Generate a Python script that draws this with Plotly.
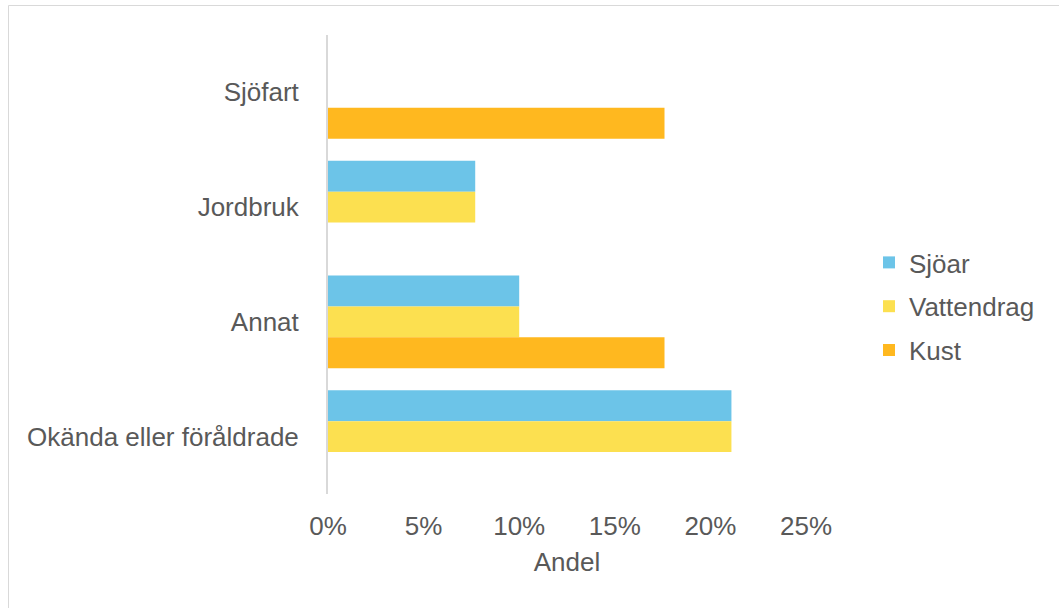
import plotly.graph_objects as go

categories = ["Sjöfart", "Jordbruk", "Annat", "Okända eller föråldrade"]
sjoar = [None, 0.077, 0.100, 0.211]
vattendrag = [None, 0.077, 0.100, 0.211]
kust = [0.176, None, 0.176, None]
series_names = ["Sjöar", "Vattendrag", "Kust"]
colors = ["#6cc4e8", "#fce050", "#ffb81f"]
x_ticks = [0, 0.05, 0.10, 0.15, 0.20, 0.25]
title_text = "Orsak till ändring av klassning i sjöar, vattendrag och kust"

W, H = 1059, 608
L, R, T, B = 328, 253, 35, 114
pw, ph = W - L - R, H - T - B

font_fam = "Arial, 'Liberation Sans', sans-serif"
grey = "#595959"
fs = 26

fig = go.Figure()
for name, vals, col in zip(series_names, [sjoar, vattendrag, kust], colors):
    fig.add_trace(go.Bar(
        y=categories, x=vals, name=name, orientation="h",
        marker=dict(color=col, line=dict(width=0)),
        legendgroup=name,
    ))

fig.update_layout(
    width=W, height=H,
    margin=dict(l=L, r=R, t=T, b=B, pad=0),
    paper_bgcolor="white", plot_bgcolor="white",
    barmode="group", bargap=0.19, bargroupgap=0,
    font=dict(family=font_fam, color=grey, size=fs),
    showlegend=True,
    legend=dict(
        x=(869 - L) / pw, xanchor="left",
        y=1 - (239 - T) / ph, yanchor="top",
        font=dict(size=fs, color=grey),
        tracegroupgap=7,
        itemwidth=30,
        bgcolor="rgba(0,0,0,0)",
    ),
    xaxis=dict(
        range=[0, 0.25], tickvals=x_ticks, tickformat=".0%",
        showgrid=False, zeroline=False, showline=False, ticks="",
        ticklabelstandoff=14,
        title=dict(text="Andel", standoff=12, font=dict(size=fs, color=grey)),
        tickfont=dict(size=fs, color=grey),
    ),
    yaxis=dict(
        categoryorder="array", categoryarray=categories,
        autorange="reversed",
        showgrid=False, zeroline=False,
        showline=True, linecolor="#d9d9d9", linewidth=2,
        ticks="", ticklabelstandoff=22,
        tickfont=dict(size=fs, color=grey),
    ),
    shapes=[dict(
        type="rect", xref="paper", yref="paper",
        x0=(8.5 - L) / pw, x1=(W + 20 - L) / pw,
        y0=1 + (T - 5.5) / ph, y1=-(B + 20) / ph,
        line=dict(color="#d9d9d9", width=1), fillcolor="rgba(0,0,0,0)",
        layer="below",
    )],
    annotations=[dict(
        text="<b>" + title_text + "</b>",
        xref="paper", yref="paper",
        x=(80 - L) / pw, xanchor="left",
        y=1 + (T + 0.5) / ph, yanchor="bottom",
        showarrow=False, font=dict(size=15, color="#000000", family=font_fam),
    )],
)

fig.write_html(
    "out.html",
    config={"displayModeBar": False},
    post_script="document.body.style.margin='0';document.body.style.overflow='hidden';",
)
